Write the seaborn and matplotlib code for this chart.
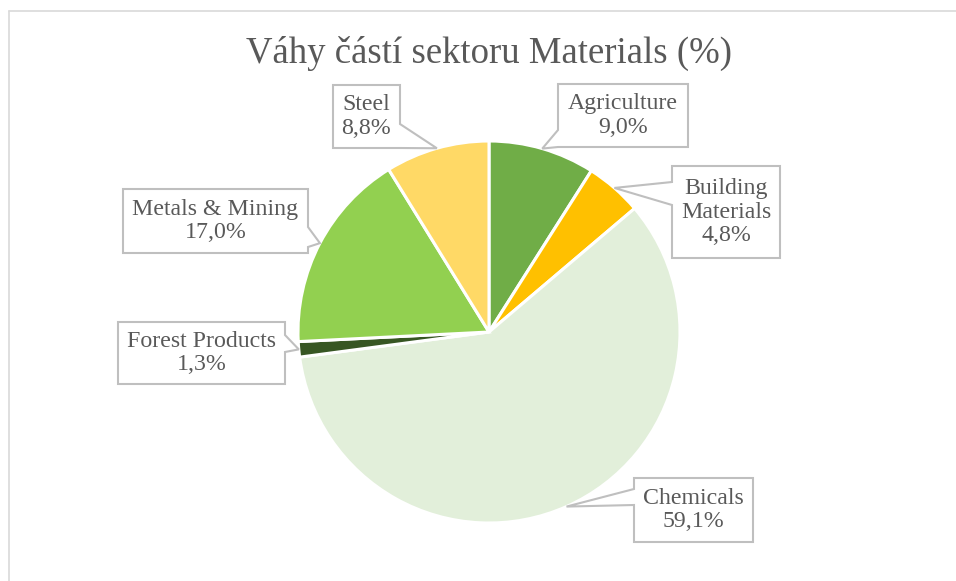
import matplotlib
matplotlib.use("Agg")
import matplotlib.pyplot as plt
from matplotlib.patches import Polygon
import numpy as np
import seaborn as sns

W, H = 956, 581

# data (clockwise from 12 o'clock)
categories = ["Agriculture", "Building\nMaterials", "Chemicals",
              "Forest Products", "Metals & Mining", "Steel"]
weights = [9.0, 4.8, 59.1, 1.3, 17.0, 8.8]
colors = ["#70AD47", "#FFC000", "#E2EFDA", "#375623", "#92D050", "#FFD966"]

# callout layout in pixels: box (left, top, right, bottom), tail side, tail base span
callouts = [
    ((558, 84, 688, 147), "left", (130, 147)),
    ((672, 166, 780, 258), "left", (182, 205)),
    ((634, 478, 753, 542), "left", (489, 505)),
    ((118, 322, 285, 384), "right", (335, 352)),
    ((123, 189, 308, 253), "right", (227, 247)),
    ((333, 85, 400, 148), "right", (124, 148)),
]

TEXT = "#595959"
EDGE = "#BFBFBF"

sns.set_style("white")
plt.rcParams["font.family"] = ["Liberation Serif", "DejaVu Serif"]


def callout_poly(box, side, base, tip):
    x0, y0, x1, y1 = box
    b0, b1 = base
    pts = [(x0, y0), (x1, y0)]
    if side == "right":
        pts += [(x1, b0), tip, (x1, b1)]
    pts += [(x1, y1), (x0, y1)]
    if side == "left":
        pts += [(x0, b1), tip, (x0, b0)]
    return [(x, H - y) for x, y in pts]


fig = plt.figure(figsize=(W / 100, H / 100), dpi=100)
ax = fig.add_axes([0, 0, 1, 1])

wedges, _ = ax.pie(
    weights, colors=colors, startangle=90, counterclock=False,
    center=(489, H - 332), radius=191,
    wedgeprops={"edgecolor": "white", "linewidth": 2.2},
)

for w, name, val, (box, side, base) in zip(wedges, categories, weights, callouts):
    mid = np.deg2rad((w.theta1 + w.theta2) / 2)
    cx, cy = w.center
    tip = (cx + w.r * np.cos(mid), H - (cy + w.r * np.sin(mid)))
    poly = Polygon(callout_poly(box, side, base, tip), closed=True,
                   facecolor="white", edgecolor=EDGE, linewidth=1.5, zorder=5)
    ax.add_patch(poly)
    label = f"{name}\n{val:.1f}%".replace(".", ",")
    ax.text((box[0] + box[2]) / 2, H - (box[1] + box[3]) / 2, label,
            ha="center", va="center", fontsize=17.2, color=TEXT,
            linespacing=1.18, zorder=6)

ax.text(489, H - 53, "Váhy částí sektoru Materials (%)", ha="center", va="center",
        fontsize=26.5, color=TEXT)

# chart area border (only top/left visible in the crop)
ax.plot([9.5, 9.5], [0, H - 11], color="#D9D9D9", lw=1.2, clip_on=False)
ax.plot([9.5, W], [H - 11, H - 11], color="#D9D9D9", lw=1.2, clip_on=False)

ax.set_xlim(0, W)
ax.set_ylim(0, H)
ax.axis("off")

fig.savefig("out.png", dpi=100)
plt.close(fig)
